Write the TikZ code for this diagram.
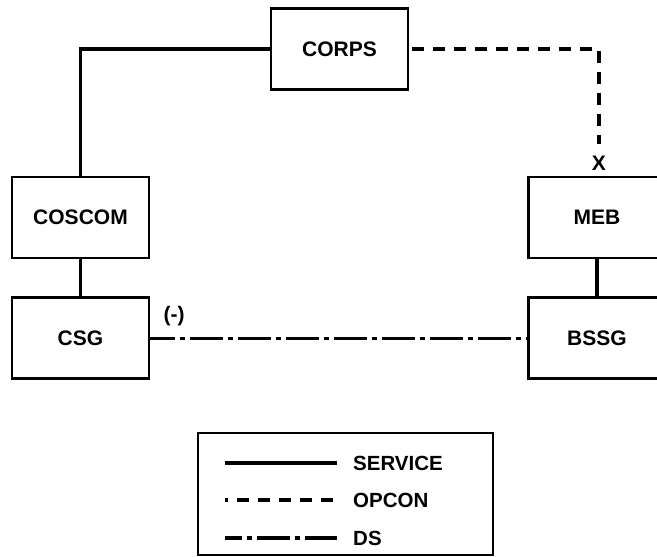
\documentclass[tikz,border=0pt]{standalone}
\usepackage{fontspec}
\setmainfont{Liberation Sans}
\usetikzlibrary{positioning,calc}

\begin{document}
\begin{tikzpicture}[
  x=1pt, y=1pt,
  font=\fontsize{21}{25}\selectfont\bfseries,
  unit/.style={draw, line width=2.8pt, minimum width=137pt, minimum height=81pt, align=center, inner sep=0pt},
  legbox/.style={draw, line width=2.6pt, minimum width=295pt, minimum height=122pt},
  service/.style={line width=3.2pt},
  opcon/.style={line width=3.6pt, dash pattern=on 12pt off 9pt},
  ds/.style={line width=3.6pt, dash pattern=on 33pt off 5pt on 5pt off 5pt},
  lbl/.style={inner sep=0pt},
  legtxt/.style={inner sep=0pt, anchor=west, font=\fontsize{20.5}{24}\selectfont\bfseries},
]
\clip (0,0) rectangle (657,-557);

\node[unit] (corps) at (339.5,-49) {CORPS};
\node[unit] (coscom) at (80.5,-217.5) {COSCOM};
\node[unit, below=37pt of coscom] (csg) {CSG};
\node[unit] (meb) at (597,-217.5) {MEB};
\node[unit, below=37pt of meb] (bssg) {BSSG};
\node[lbl, above=5pt of meb.north, xshift=2pt] (xmk) {X};
\node[lbl, above right=12pt and 13pt of csg.east] (minus) {(-)};
\coordinate (opend) at ($(xmk.north)+(0,12)$);

\draw[service] (corps.west) -| (coscom.north);
\draw[service] (coscom) -- (csg);
\draw[service] (meb) -- (bssg);
\draw[opcon, dash phase=-3pt] (corps.east) -| (opend);
\draw[ds, dash phase=8pt] (csg.east) -- (bssg.west);

% legend
\node[legbox] (leg) at (345.5,-494) {};
\foreach \y/\sty/\ph/\txt in {-463/service/0/SERVICE, -500/opcon/9/OPCON, -538/ds/16/DS} {
  \coordinate (ls) at (225,\y);
  \coordinate (le) at (337,\y);
  \draw[\sty, dash phase=\ph pt] (ls) -- (le);
  \node[legtxt] at (353,\y) {\txt};
}
\end{tikzpicture}
\end{document}
